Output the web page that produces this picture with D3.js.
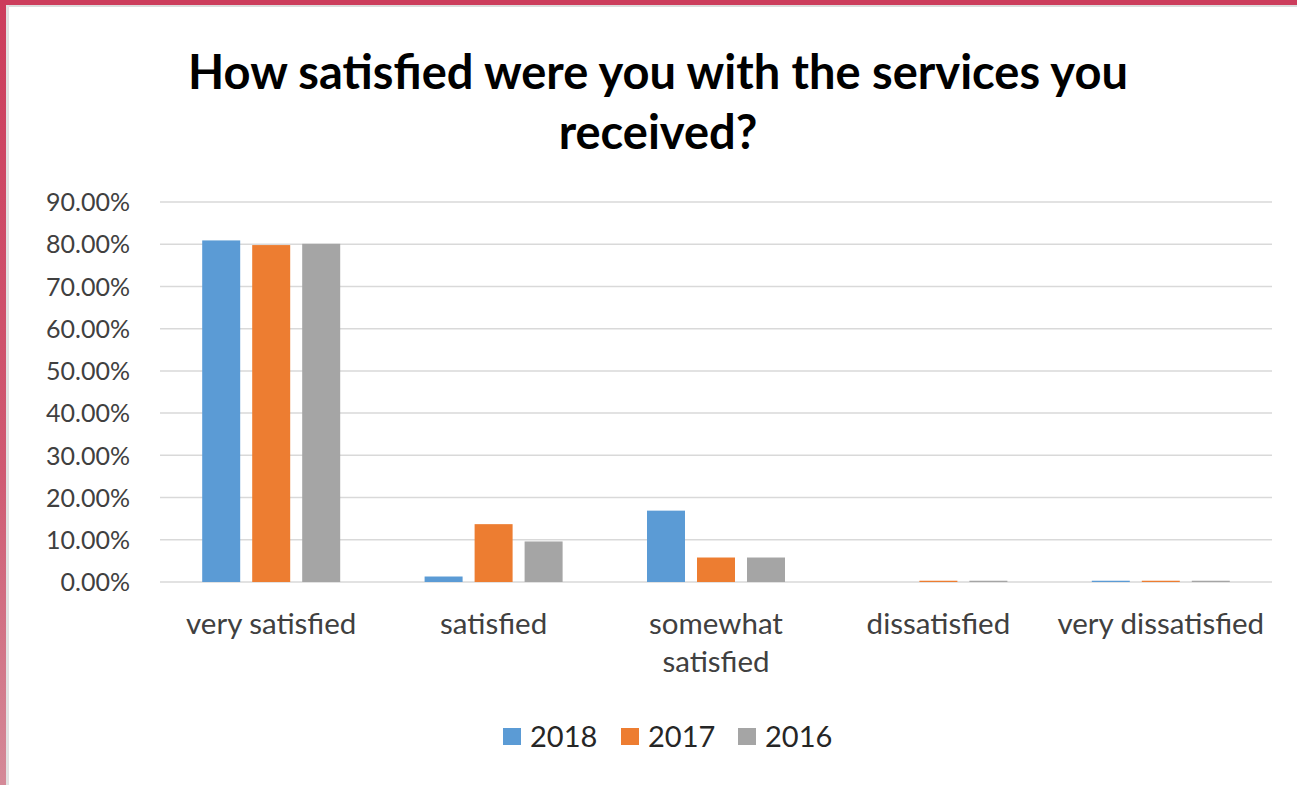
<!DOCTYPE html>
<html>
<head>
<meta charset="utf-8">
<script src="https://cdn.jsdelivr.net/npm/d3@7"></script>
<style>
  html, body { margin: 0; padding: 0; background: #fff; }
  svg { display: block; }
</style>
</head>
<body>
<svg id="chart" width="1297" height="785"></svg>
<script>
// Survey responses by year
const categories = [["very satisfied"], ["satisfied"], ["somewhat", "satisfied"], ["dissatisfied"], ["very dissatisfied"]];
const years = ["2018", "2017", "2016"];
const values2018 = [0.809, 0.013, 0.169, 0.000, 0.003];
const values2017 = [0.798, 0.137, 0.058, 0.003, 0.003];
const values2016 = [0.801, 0.096, 0.058, 0.003, 0.003];
const yTicks = [0, 0.1, 0.2, 0.3, 0.4, 0.5, 0.6, 0.7, 0.8, 0.9];
const colors = ["#5b9bd5", "#ed7d31", "#a5a5a5"];

const series = [values2018, values2017, values2016];
const font = "Lato, 'Open Sans', sans-serif";

const svg = d3.select("#chart");

// window frame
const defs = svg.append("defs");
const grad = defs.append("linearGradient").attr("id", "sideFade")
  .attr("x1", 0).attr("y1", 0).attr("x2", 0).attr("y2", 1);
grad.append("stop").attr("offset", "0%").attr("stop-color", "#cc3d5c");
grad.append("stop").attr("offset", "60%").attr("stop-color", "#cf5a72");
grad.append("stop").attr("offset", "100%").attr("stop-color", "#d48a98");
svg.append("rect").attr("x", 0).attr("y", 0).attr("width", 1297).attr("height", 5).attr("fill", "#cc3d5c");
svg.append("rect").attr("x", 0).attr("y", 5).attr("width", 1297).attr("height", 2).attr("fill", "#dcdcdc");
svg.append("rect").attr("x", 0).attr("y", 0).attr("width", 6).attr("height", 785).attr("fill", "url(#sideFade)");
svg.append("rect").attr("x", 6).attr("y", 5).attr("width", 3).attr("height", 780).attr("fill", "#e2e2e2");

// title
const title = svg.append("text")
  .attr("text-anchor", "middle")
  .attr("font-family", font)
  .attr("font-weight", "bold")
  .attr("font-size", 47)
  .attr("fill", "#000");
title.append("tspan").attr("x", 658).attr("y", 89).text("How satisfied were you with the services you");
title.append("tspan").attr("x", 658).attr("y", 149).text("received?");

// scales
const x = d3.scaleBand().domain(d3.range(categories.length)).range([160, 1272]);
const y = d3.scaleLinear().domain([0, 0.9]).range([582, 202]);
const barW = 38, barStep = 50;

// gridlines
svg.append("g").selectAll("line").data(yTicks).join("line")
  .attr("x1", 160).attr("x2", 1272)
  .attr("y1", d => y(d)).attr("y2", d => y(d))
  .attr("stroke", "#d9d9d9").attr("stroke-width", 1.5);

// y axis labels
const yAxis = d3.axisLeft(y).tickValues(yTicks).tickFormat(d3.format(".2%")).tickSize(0).tickPadding(0);
const yG = svg.append("g").attr("transform", "translate(130,0)").call(yAxis);
yG.select(".domain").remove();
yG.selectAll("text")
  .attr("font-family", font).attr("font-size", 25).attr("fill", "#404040")
  .attr("dy", "0.35em");

// bars
series.forEach((vals, si) => {
  svg.append("g").selectAll("rect").data(vals).join("rect")
    .attr("x", (d, i) => x(i) + x.bandwidth() / 2 + (si - 1) * barStep - barW / 2)
    .attr("width", barW)
    .attr("y", d => y(d))
    .attr("height", d => y(0) - y(d))
    .attr("fill", colors[si]);
});

// category labels
const catG = svg.append("g");
categories.forEach((lines, i) => {
  const t = catG.append("text")
    .attr("text-anchor", "middle")
    .attr("font-family", font).attr("font-size", 29.5).attr("fill", "#404040");
  lines.forEach((ln, li) => {
    t.append("tspan").attr("x", x(i) + x.bandwidth() / 2).attr("y", 634 + li * 38).text(ln);
  });
});

// legend
const legendX = [503, 621, 738];
const lg = svg.append("g");
years.forEach((yr, i) => {
  lg.append("rect").attr("x", legendX[i]).attr("y", 728).attr("width", 18).attr("height", 17).attr("fill", colors[i]);
  lg.append("text").attr("x", legendX[i] + 27).attr("y", 747)
    .attr("font-family", font).attr("font-size", 29).attr("fill", "#262626").text(yr);
});
</script>
</body>
</html>
